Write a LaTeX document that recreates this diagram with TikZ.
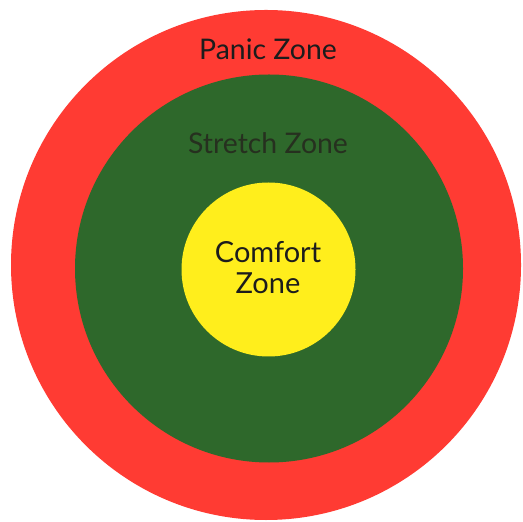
\documentclass[tikz,border=0pt]{standalone}
\usepackage{fontspec}
\setmainfont{Lato}
\usetikzlibrary{positioning}
\definecolor{panicred}{HTML}{FF3B33}
\definecolor{stretchgreen}{HTML}{2E682B}
\definecolor{comfortyellow}{HTML}{FFEE1C}
\definecolor{labeltext}{HTML}{1C1C1C}
\definecolor{labeldark}{HTML}{26301F}
\tikzset{
  zone/.style={
    circle, draw=none, inner sep=0pt
  },
  zonetext/.style={
    font=\fontsize{14.2}{17}\selectfont, text=labeltext,
    align=center, inner sep=0pt
  }
}

\begin{document}
\begin{tikzpicture}[x=0.5pt, y=-0.5pt]
  \useasboundingbox (0,0) rectangle (523,522);
  \fill[white] (0,0) rectangle (523,522);

  \node[zone, fill=panicred, minimum size=255pt] (panic) at (266,265) {};
  \node[zone, fill=stretchgreen, minimum size=194pt] (stretch) at (269,268.5) {};
  \node[zone, fill=comfortyellow, minimum size=87pt] (comfort) at (268.5,269.5) {};

  \node[zonetext] (paniclbl) at (268,49) {Panic Zone};
  \node[zonetext, text=labeldark] (stretchlbl) at (268,143) {Stretch Zone};
  \node[zonetext, font=\fontsize{14.5}{15.5}\selectfont] (comfortlbl) at (268,268) {Comfort\\Zone};
\end{tikzpicture}
\end{document}
